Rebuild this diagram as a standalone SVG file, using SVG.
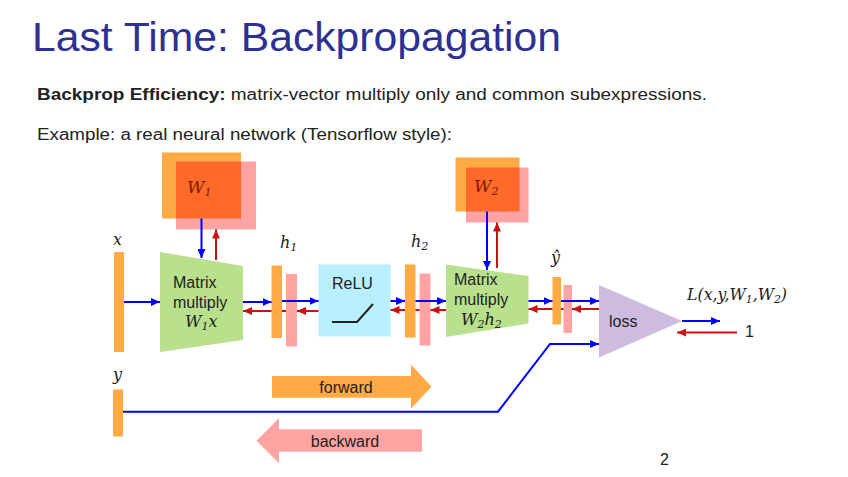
<svg xmlns="http://www.w3.org/2000/svg" width="848" height="477" viewBox="0 0 848 477">
<defs>
<style>
.t{font-family:"Liberation Sans",Arial,sans-serif;fill:#222}
.lbl{font-family:"Liberation Sans",Arial,sans-serif;font-size:16px;fill:#222}
.m{font-family:"DejaVu Serif","Liberation Serif",serif;font-style:italic;font-size:16px;fill:#222}
.wl{font-family:"DejaVu Serif","Liberation Serif",serif;font-style:italic;font-size:17px;fill:#7a1a00}
.sub{font-size:11px}
.or{fill:#FFAA44}
.pk{fill:#FFA3A3}
.ov{fill:#FF6A2A}
.bl{fill:none;stroke:#0000FF;stroke-width:2}
.rd{fill:none;stroke:#CC1111;stroke-width:2}
</style>
<marker id="ab" markerUnits="userSpaceOnUse" markerWidth="9" markerHeight="8" refX="9" refY="4" orient="auto"><path d="M0,0 L9,4 L0,8 z" fill="#0000FF"/></marker>
<marker id="ar" markerUnits="userSpaceOnUse" markerWidth="9" markerHeight="8" refX="9" refY="4" orient="auto"><path d="M0,0 L9,4 L0,8 z" fill="#CC1111"/></marker>
</defs>
<rect width="848" height="477" fill="#fff"/>
<text x="32" y="51" font-family="Liberation Sans,Arial,sans-serif" font-size="41" fill="#2E3192" textLength="529" lengthAdjust="spacingAndGlyphs">Last Time: Backpropagation</text>
<text class="t" x="37" y="99.5" font-size="16" textLength="670" lengthAdjust="spacingAndGlyphs"><tspan font-weight="bold">Backprop Efficiency:</tspan> matrix-vector multiply only and common subexpressions.</text>
<text class="t" x="37" y="139.5" font-size="16" textLength="415" lengthAdjust="spacingAndGlyphs">Example: a real neural network (Tensorflow style):</text>

<g id="W1">
<rect class="or" x="162" y="152.5" width="79" height="66"/>
<rect class="pk" x="176" y="161.5" width="80" height="68"/>
<rect class="ov" x="176" y="161.5" width="65" height="57"/>
<text class="wl" x="187" y="193">W<tspan class="sub" dy="3">1</tspan></text>
</g>
<g id="W2">
<rect class="or" x="455.5" y="157.5" width="64" height="54"/>
<rect class="pk" x="466" y="167.5" width="62.5" height="55"/>
<rect class="ov" x="466" y="167.5" width="53.5" height="44"/>
<text class="wl" x="474" y="192">W<tspan class="sub" dy="3">2</tspan></text>
</g>

<g id="x">
<rect class="or" x="114" y="252" width="10" height="100"/>
<text class="m" x="113" y="245">x</text>
</g>
<g id="y">
<rect class="or" x="113" y="389.5" width="10" height="47"/>
<text class="m" x="113" y="380">y</text>
</g>

<g id="matmul1">
<polygon points="160,252 243,266 243,340 160,352" fill="#B9E08C"/>
<text class="lbl" x="173" y="288">Matrix</text>
<text class="lbl" x="173" y="308">multiply</text>
<text class="m" x="185" y="327">W<tspan class="sub" dy="3">1</tspan><tspan dy="-3">x</tspan></text>
</g>

<g id="h1">
<rect class="or" x="271.5" y="265.5" width="10.5" height="72.5"/>
<rect class="pk" x="286" y="274" width="11" height="72.5"/>
<text class="m" x="280" y="248">h<tspan class="sub" dy="3">1</tspan></text>
</g>

<g id="relu">
<rect x="318.5" y="264.5" width="72" height="72" fill="#B8F0FF"/>
<text class="lbl" x="332" y="288.5">ReLU</text>
<polyline points="332,322 357,322 373,304" fill="none" stroke="#222" stroke-width="2"/>
</g>

<g id="h2">
<rect class="or" x="405" y="264.5" width="10.5" height="73"/>
<rect class="pk" x="419.5" y="273.5" width="11" height="72"/>
<text class="m" x="411" y="247">h<tspan class="sub" dy="3">2</tspan></text>
</g>

<g id="matmul2">
<polygon points="446,264.5 528.5,276 528.5,323.5 446,337" fill="#B9E08C"/>
<text class="lbl" x="454" y="285">Matrix</text>
<text class="lbl" x="454" y="305">multiply</text>
<text class="m" x="461" y="325">W<tspan class="sub" dy="3">2</tspan><tspan dy="-3">h</tspan><tspan class="sub" dy="3">2</tspan></text>
</g>

<g id="yhat">
<rect class="or" x="552.5" y="277" width="8.5" height="47.5"/>
<rect class="pk" x="563.5" y="285" width="8.5" height="48"/>
<text class="m" x="551" y="263">ŷ</text>
</g>

<g id="loss">
<polygon points="599,285 682,321 599,357.5" fill="#CDBBE0"/>
<text class="lbl" x="609" y="327">loss</text>
</g>

<g id="output">
<text class="m" x="687" y="300" textLength="100" lengthAdjust="spacingAndGlyphs">L(x,y,W<tspan class="sub" dy="3">1</tspan><tspan dy="-3">,W</tspan><tspan class="sub" dy="3">2</tspan><tspan dy="-3">)</tspan></text>
<text class="lbl" x="745" y="337">1</text>
</g>

<g id="legend">
<polygon points="272,376 411,376 411,364.5 431.5,386.7 411,408.5 411,397.7 272,397.7" fill="#FFAA44"/>
<text class="lbl" x="346" y="393" text-anchor="middle">forward</text>
<polygon points="256.5,440.7 279,418.3 279,429.3 422,429.3 422,451.7 279,451.7 279,463.3" fill="#FFA3A3"/>
<text class="lbl" x="345" y="447" text-anchor="middle">backward</text>
</g>

<text class="lbl" x="660" y="465">2</text>

<g id="connectors">
<path class="bl" d="M201.5,218.5 V258" marker-end="url(#ab)"/>
<path class="rd" d="M216,260 V229.5" marker-end="url(#ar)"/>
<path class="bl" d="M487,211.5 V270" marker-end="url(#ab)"/>
<path class="rd" d="M497,268 V222.5" marker-end="url(#ar)"/>

<path class="bl" d="M124,302 H160" marker-end="url(#ab)"/>
<path class="bl" d="M243,302 H271.5" marker-end="url(#ab)"/>
<path class="bl" d="M282,301 H318.5" marker-end="url(#ab)"/>
<path class="bl" d="M390.5,301 H405" marker-end="url(#ab)"/>
<path class="bl" d="M415.5,301 H446" marker-end="url(#ab)"/>
<path class="bl" d="M528.5,301 H552.5" marker-end="url(#ab)"/>
<path class="bl" d="M561,301 H599" marker-end="url(#ab)"/>

<path class="rd" d="M286,311 H282 M271.5,311 H243" marker-end="url(#ar)"/>
<path class="rd" d="M318.5,311 H297" marker-end="url(#ar)"/>
<path class="rd" d="M419.5,310 H415.5 M405,310 H390.5" marker-end="url(#ar)"/>
<path class="rd" d="M446,310 H430.5" marker-end="url(#ar)"/>
<path class="rd" d="M563.5,309 H561 M552.5,309 H528.5" marker-end="url(#ar)"/>
<path class="rd" d="M599,309 H572" marker-end="url(#ar)"/>

<path class="bl" d="M682,321 H720" marker-end="url(#ab)"/>
<path class="rd" d="M737,332.5 H677" marker-end="url(#ar)"/>

<path class="bl" d="M123,411.7 H498 L550,344 H599" marker-end="url(#ab)"/>
</g>
</svg>
